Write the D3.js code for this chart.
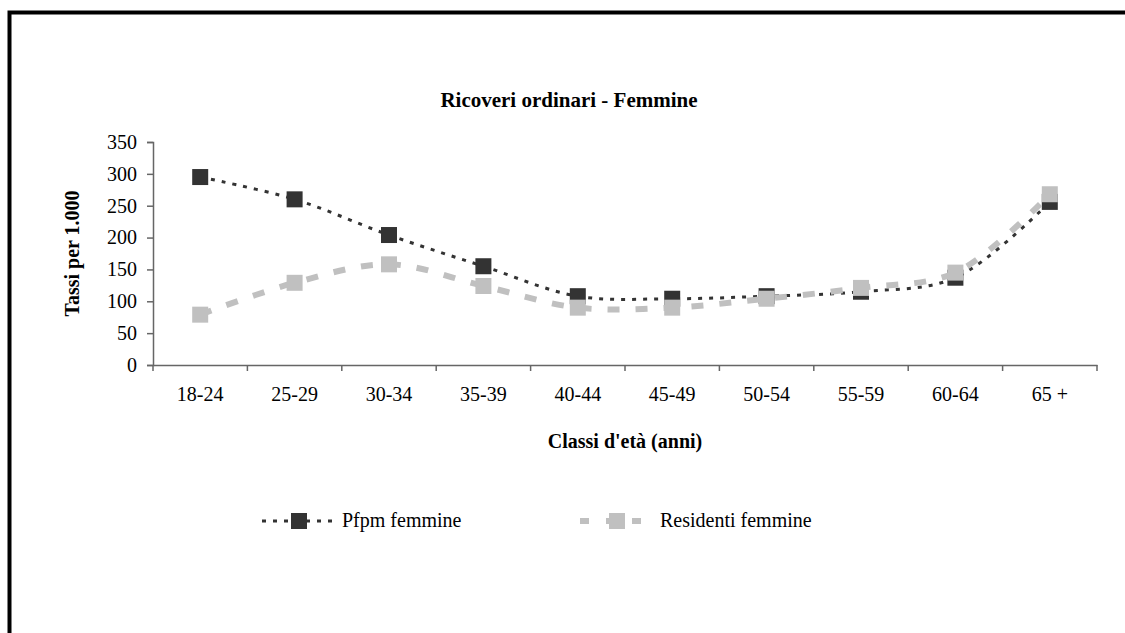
<!DOCTYPE html>
<html>
<head>
<meta charset="utf-8">
<script src="https://cdn.jsdelivr.net/npm/d3@7"></script>
<style>
  body { margin: 0; background: #fff; }
</style>
</head>
<body>
<div id="chart"></div>
<script>
// Data
const categories = ["18-24", "25-29", "30-34", "35-39", "40-44", "45-49", "50-54", "55-59", "60-64", "65 +"];
const pfpmFemmine = [295, 260, 204, 155, 108, 104, 108, 115, 137, 256];
const residentiFemmine = [79, 129, 158, 124, 90, 90, 104, 121, 145, 268];
const yTicks = [0, 50, 100, 150, 200, 250, 300, 350];

const width = 1125;
const height = 633;
const marginTop = 142;
const marginRight = 28;
const marginBottom = 268;
const marginLeft = 153;
const serif = "Liberation Serif";

const svg = d3.select("#chart")
  .append("svg")
    .attr("viewBox", [0, 0, width, height])
    .attr("width", width)
    .attr("height", height)
    .attr("font-family", serif);

// outer frame (only top and left visible in the crop)
svg.append("rect")
    .attr("x", 9.5)
    .attr("y", 12.5)
    .attr("width", width + 40)
    .attr("height", height + 40)
    .attr("fill", "none")
    .attr("stroke", "#000")
    .attr("stroke-width", 4);

const x = d3.scaleBand()
    .domain(categories)
    .range([marginLeft, width - marginRight]);

const y = d3.scaleLinear()
    .domain([0, 350])
    .range([height - marginBottom, marginTop]);

// Axes
const xAxis = svg.append("g")
    .attr("transform", `translate(0,${height - marginBottom})`)
    .call(d3.axisBottom(x).tickSize(0).tickPadding(22));

xAxis.attr("font-family", serif);
xAxis.select(".domain").attr("stroke", "#666").attr("stroke-width", 1.5);
xAxis.selectAll("text").attr("font-size", 20).attr("fill", "#000").attr("font-family", serif);

// tick marks at band boundaries
xAxis.selectAll(".bound")
  .data(categories.concat(["_end"]))
  .join("line")
    .attr("class", "bound")
    .attr("x1", (d, i) => marginLeft + i * x.step())
    .attr("x2", (d, i) => marginLeft + i * x.step())
    .attr("y1", 0)
    .attr("y2", 6)
    .attr("stroke", "#666")
    .attr("stroke-width", 1.5);

const yAxis = svg.append("g")
    .attr("transform", `translate(${marginLeft},0)`)
    .call(d3.axisLeft(y).tickValues(yTicks).tickSize(6).tickPadding(10));

yAxis.attr("font-family", serif);
yAxis.select(".domain").attr("stroke", "#666").attr("stroke-width", 1.5);
yAxis.selectAll(".tick line").attr("stroke", "#666").attr("stroke-width", 1.5);
yAxis.selectAll("text").attr("font-size", 20).attr("fill", "#000").attr("font-family", serif);

// Titles
svg.append("text")
    .attr("x", 569)
    .attr("y", 107)
    .attr("text-anchor", "middle")
    .attr("font-family", serif)
    .attr("font-size", 21)
    .attr("font-weight", "bold")
    .text("Ricoveri ordinari - Femmine");

svg.append("text")
    .attr("transform", `translate(79,${(y(0) + y(350)) / 2}) rotate(-90)`)
    .attr("text-anchor", "middle")
    .attr("font-family", serif)
    .attr("font-size", 20)
    .attr("font-weight", "bold")
    .text("Tassi per 1.000");

svg.append("text")
    .attr("x", (marginLeft + width - marginRight) / 2)
    .attr("y", 448)
    .attr("text-anchor", "middle")
    .attr("font-family", serif)
    .attr("font-size", 20)
    .attr("font-weight", "bold")
    .text("Classi d'età (anni)");

// Series
const series = [
  { name: "Pfpm femmine", values: pfpmFemmine, color: "#333333", width: 3, dash: "4,7" },
  { name: "Residenti femmine", values: residentiFemmine, color: "#c0c0c0", width: 6, dash: "12,16" }
];

const line = d3.line()
    .x((d, i) => x(categories[i]) + x.bandwidth() / 2)
    .y(d => y(d))
    .curve(d3.curveCatmullRom.alpha(0.5));

const markerSize = 16;

series.forEach(s => {
  const g = svg.append("g");
  g.append("path")
      .attr("d", line(s.values))
      .attr("fill", "none")
      .attr("stroke", s.color)
      .attr("stroke-width", s.width)
      .attr("stroke-dasharray", s.dash);
  g.selectAll("rect")
    .data(s.values)
    .join("rect")
      .attr("x", (d, i) => x(categories[i]) + x.bandwidth() / 2 - markerSize / 2)
      .attr("y", d => y(d) - markerSize / 2)
      .attr("width", markerSize)
      .attr("height", markerSize)
      .attr("fill", s.color);
});

// Legend
const legendY = 521;
const legendX = [262, 580];

series.forEach((s, i) => {
  const lg = svg.append("g").attr("transform", `translate(${legendX[i]},${legendY})`);
  lg.append("line")
      .attr("x1", 0)
      .attr("x2", 74)
      .attr("stroke", s.color)
      .attr("stroke-width", s.width)
      .attr("stroke-dasharray", i === 0 ? "4,7" : "9,17");
  lg.append("rect")
      .attr("x", 37 - markerSize / 2)
      .attr("y", -markerSize / 2)
      .attr("width", markerSize)
      .attr("height", markerSize)
      .attr("fill", s.color);
  lg.append("text")
      .attr("x", 80)
      .attr("y", 6)
      .attr("font-family", serif)
      .attr("font-size", 20)
      .text(s.name);
});
</script>
</body>
</html>
